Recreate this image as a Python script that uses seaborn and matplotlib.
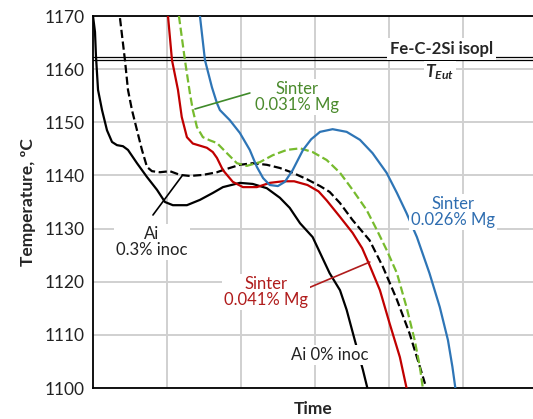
import matplotlib
matplotlib.use("Agg")
import matplotlib.pyplot as plt
import seaborn as sns
import pandas as pd

# ---- data (x in arbitrary time units) ----
ai0_t = [0, 0.027, 0.04, 0.068, 0.122, 0.189, 0.257, 0.324, 0.405, 0.473, 0.595, 0.73, 0.865,
         0.973, 1.08, 1.27, 1.446, 1.62, 1.757, 1.986, 2.16, 2.35, 2.527, 2.66, 2.8, 2.97,
         3.2, 3.34, 3.43, 3.54, 3.65, 3.71]
ai0_T = [1170, 1167.0, 1162.5, 1156.1, 1152.3, 1148.5, 1146.3, 1145.7, 1145.5, 1144.8, 1142.3,
         1139.7, 1137.3, 1135.0, 1134.4, 1134.4, 1135.4, 1136.7, 1137.8, 1138.6, 1138.4,
         1137.6, 1135.8, 1133.9, 1131.0, 1128.4, 1121.6, 1118.4, 1114.7, 1109.0, 1103.4, 1100]

ai03_t = [0.365, 0.432, 0.473, 0.527, 0.595, 0.662, 0.73, 0.797, 0.905, 1.04, 1.176, 1.31,
          1.486, 1.676, 1.757, 1.986, 2.16, 2.35, 2.527, 2.7, 2.89, 3.07, 3.2, 3.34, 3.51,
          3.74, 3.92, 4.11, 4.28, 4.42, 4.49]
ai03_T = [1169.6, 1161.7, 1156.1, 1152.3, 1148.5, 1144.8, 1141.6, 1140.8, 1140.6, 1140.8,
          1140.1, 1139.9, 1140.1, 1140.6, 1141.0, 1142.0, 1142.3, 1142.0, 1141.4, 1140.5,
          1139.3, 1138.0, 1136.9, 1134.8, 1131.6, 1127.8, 1122.8, 1116.6, 1110.3, 1104.0,
          1100.8]

s041_t = [1.014, 1.068, 1.149, 1.2, 1.27, 1.35, 1.446, 1.54, 1.62, 1.676, 1.757, 1.89, 2.027,
          2.216, 2.39, 2.57, 2.72, 2.9, 3.05, 3.16, 3.34, 3.51, 3.64, 3.74, 3.88, 4.01, 4.15,
          4.24]
s041_T = [1170, 1161.7, 1156.1, 1151.0, 1147.2, 1146.0, 1145.6, 1145.2, 1144.4, 1143.3, 1141.0,
          1138.8, 1137.8, 1137.8, 1138.6, 1138.9, 1138.9, 1138.2, 1137.0, 1135.3, 1132.2,
          1129.2, 1126.3, 1123.1, 1118.4, 1112.2, 1105.8, 1100]

s031_t = [1.162, 1.243, 1.31, 1.35, 1.405, 1.486, 1.58, 1.676, 1.81, 1.946, 2.08, 2.257, 2.43,
          2.62, 2.8, 2.97, 3.16, 3.34, 3.51, 3.70, 3.84, 3.97, 4.11, 4.24, 4.35, 4.42, 4.46]
s031_T = [1170, 1161.7, 1155.5, 1152.3, 1149.1, 1147.2, 1146.6, 1146.1, 1144.2, 1142.3,
          1141.8, 1142.5, 1143.8, 1144.8, 1145.1, 1144.4, 1142.9, 1140.5, 1137.3, 1133.5,
          1129.7, 1126.0, 1121.6, 1115.2, 1109.0, 1104.0, 1100]

s026_t = [1.446, 1.514, 1.608, 1.676, 1.716, 1.85, 1.986, 2.12, 2.216, 2.3, 2.39, 2.5, 2.595,
          2.7, 2.84, 2.95, 3.07, 3.24, 3.43, 3.61, 3.78, 3.97, 4.11, 4.24, 4.38, 4.55, 4.69,
          4.80, 4.86, 4.90]
s026_T = [1170, 1161.7, 1156.6, 1153.6, 1152.3, 1150.4, 1148.0, 1144.8, 1141.6, 1139.5,
          1138.2, 1138.0, 1138.8, 1141.0, 1144.8, 1146.8, 1148.2, 1148.7, 1148.2, 1146.7,
          1144.2, 1140.5, 1136.7, 1132.9, 1128.4, 1121.6, 1115.2, 1109.0, 1104.0, 1100]

y_ticks = [1100, 1110, 1120, 1130, 1140, 1150, 1160, 1170]
isopleth_T = [1162.25, 1161.75]

sns.set_style("white")
plt.rcParams['font.family'] = ['Lato', 'DejaVu Sans']
plt.rcParams['mathtext.fontset'] = 'custom'
plt.rcParams['mathtext.it'] = 'Lato:bold:italic'
plt.rcParams['mathtext.rm'] = 'Lato:bold'

fig = plt.figure(figsize=(5.33, 4.19), dpi=100)
ax = fig.add_axes([93 / 533, 1 - 388 / 419, 440 / 533, (388 - 16) / 419])

ax.set_xlim(0, 5.95)
ax.set_ylim(1100, 1170)
ax.set_yticks(y_ticks)
ax.set_xticks([1, 2, 3, 4, 5])
ax.set_xticklabels([])
ax.tick_params(axis='both', length=0, labelsize=12.5, colors='#222222', pad=6)
ax.grid(True, color='#d0d0d0', linewidth=1.4, zorder=0)
ax.set_axisbelow(True)
for s in ['left', 'bottom', 'top']:
    ax.spines[s].set_color('black')
    ax.spines[s].set_linewidth(1.3)
ax.spines['right'].set_visible(False)

lw = 1.6
series = [
    (ai0_t, ai0_T, 'black', '-', None),
    (ai03_t, ai03_T, 'black', '--', (5, 2.5)),
    (s041_t, s041_T, '#c00000', '-', None),
    (s031_t, s031_T, '#77bb2e', '--', (3.5, 2)),
    (s026_t, s026_T, '#2e75b6', '-', None),
]
for t, T, c, ls, dash in series:
    df = pd.DataFrame({'t': t, 'T': T})
    kw = dict(dashes=dash) if dash else {}
    sns.lineplot(data=df, x='t', y='T', ax=ax, color=c, linewidth=lw, sort=False,
                 estimator=None, linestyle=ls, zorder=3, solid_joinstyle='round',
                 dash_joinstyle='round', **kw)

for yv in isopleth_T:
    ax.axhline(yv, color='black', linewidth=0.9, zorder=2)

ax.set_xlabel('Time', fontsize=12.5, fontweight='bold', labelpad=3)
ax.set_ylabel('Temperature, ºC', fontsize=12.5, fontweight='bold', labelpad=6)

bb = dict(facecolor='white', edgecolor='none', pad=1.5)

def px2d(px, py):
    return ((px - 93) / 74.0, 1170 - (py - 16) / 5.314)

# isopleth label
x, y = px2d(442, 49)
ax.text(x, y, 'Fe-C-2Si isopl', fontsize=12, fontweight='bold', ha='center', va='center',
        bbox=dict(facecolor='white', edgecolor='none', pad=2), zorder=5)
x, y = px2d(440, 72)
ax.text(x, y, r'$T_{Eut}$', fontsize=12.5, ha='center', va='center',
        bbox=dict(facecolor='white', edgecolor='none', pad=1), zorder=5)

# leader lines
def leader(p0, p1, color):
    a = px2d(*p0); b = px2d(*p1)
    ax.plot([a[0], b[0]], [a[1], b[1]], color=color, linewidth=1.2, zorder=4)

leader((250, 93), (195, 109), '#3f8a2a')
leader((182, 176), (153, 215), 'black')
leader((306, 289), (370, 262), '#b01c1c')

# curve labels
x, y = px2d(297, 97)
ax.text(x, y, 'Sinter\n0.031% Mg', color='#4a8a2c', fontsize=12, ha='center', va='center',
        linespacing=1.0, bbox=bb, zorder=5)
x, y = px2d(453, 212)
ax.text(x, y, 'Sinter\n0.026% Mg', color='#2e6db0', fontsize=12, ha='center', va='center',
        linespacing=1.0, bbox=bb, zorder=5)
x, y = px2d(152, 242)
ax.text(x, y, 'Ai\n0.3% inoc', color='#222222', fontsize=12, ha='center', va='center',
        linespacing=1.0, bbox=bb, zorder=5)
x, y = px2d(266, 292)
ax.text(x, y, 'Sinter\n0.041% Mg', color='#b01c1c', fontsize=12, ha='center', va='center',
        linespacing=1.0, bbox=bb, zorder=5)
x, y = px2d(330, 355)
ax.text(x, y, 'Ai 0% inoc', color='#222222', fontsize=12, ha='center', va='center',
        bbox=bb, zorder=5)

fig.savefig('out.png', dpi=100, facecolor='white')
